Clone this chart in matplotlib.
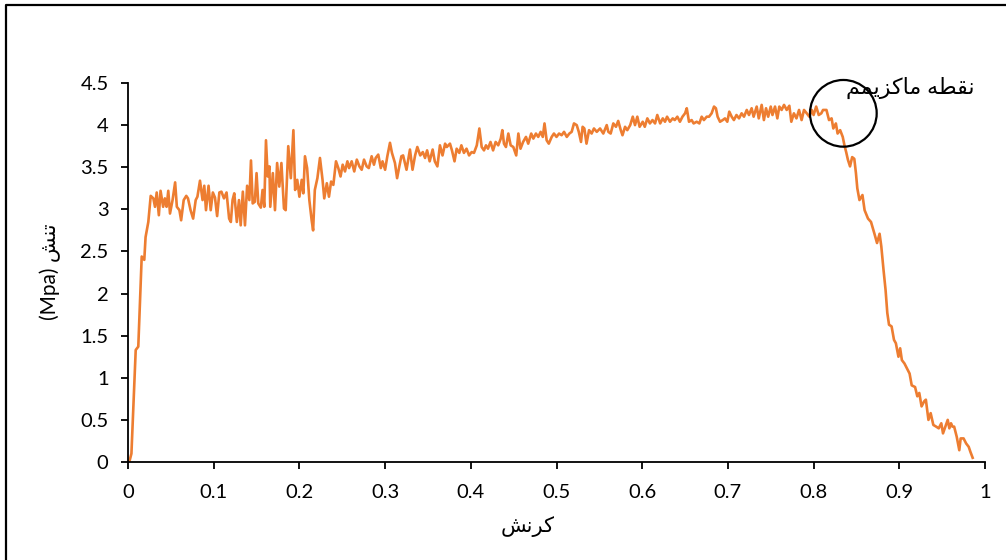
import matplotlib
matplotlib.use("Agg")
import matplotlib.pyplot as plt
from matplotlib.patches import Ellipse
from matplotlib.lines import Line2D

# ---------------- data ----------------
strain = [
    0.002, 0.004, 0.009, 0.012, 0.016, 0.019, 0.0205, 0.0237, 0.0265,
    0.0296, 0.0315, 0.0335, 0.036, 0.038, 0.041, 0.043, 0.045, 0.047, 0.049,
    0.052, 0.055, 0.057, 0.060, 0.062, 0.065, 0.068, 0.070, 0.073, 0.076,
    0.079, 0.081, 0.084, 0.087, 0.089, 0.091, 0.094, 0.0965, 0.099, 0.1015,
    0.104, 0.1066, 0.109, 0.112, 0.115, 0.118, 0.120, 0.122, 0.124, 0.127,
    0.1295, 0.1315, 0.134, 0.1365, 0.139, 0.1416, 0.1435, 0.1455, 0.148, 0.150,
    0.152, 0.155, 0.157, 0.159, 0.161, 0.163, 0.165,
    0.166, 0.169, 0.1715, 0.174, 0.1765, 0.179, 0.182, 0.184, 0.187, 0.190,
    0.193, 0.195, 0.1975, 0.200, 0.2027, 0.2046, 0.2065, 0.209, 0.2116, 0.2143,
    0.216, 0.218, 0.221, 0.224, 0.227, 0.229, 0.232, 0.2345, 0.237, 0.2396,
    0.2427, 0.2454, 0.248, 0.2505, 0.2532, 0.256, 0.258, 0.261, 0.264, 0.267,
    0.270, 0.2727, 0.2754, 0.2785, 0.281, 0.2843, 0.287, 0.289, 0.292, 0.295,
    0.297, 0.300, 0.3026, 0.3057, 0.308, 0.3115, 0.314, 0.3166, 0.319,
    0.321, 0.325, 0.329, 0.332, 0.335, 0.3376, 0.341, 0.344, 0.3466, 0.349,
    0.352, 0.3555, 0.358, 0.361, 0.364, 0.367, 0.370, 0.372, 0.3757, 0.378,
    0.381, 0.3835, 0.3866, 0.389, 0.392, 0.395, 0.398, 0.401, 0.4037, 0.407,
    0.410, 0.4127, 0.4154, 0.4177, 0.420, 0.423, 0.426, 0.429, 0.432, 0.435,
    0.4368, 0.4387, 0.441, 0.4438, 0.4465, 0.4496, 0.453, 0.4555, 0.458, 0.461,
    0.4644, 0.467, 0.4705, 0.473, 0.476, 0.4787, 0.4815, 0.484, 0.486, 0.4885,
    0.491, 0.4944, 0.497, 0.500, 0.503, 0.506, 0.5088, 0.512, 0.515, 0.5177,
    0.5204, 0.5236, 0.526, 0.5286, 0.5305, 0.5325, 0.535, 0.538, 0.541, 0.5437,
    0.547,
    0.5508, 0.5546, 0.5586, 0.5605, 0.5632, 0.5663, 0.5694, 0.572, 0.575, 0.577,
    0.580, 0.5826, 0.586, 0.589, 0.5916, 0.5943, 0.597, 0.6006, 0.603, 0.606,
    0.609, 0.612, 0.615, 0.6176, 0.621, 0.624, 0.6266, 0.629, 0.6324, 0.6356,
    0.638, 0.641, 0.644, 0.647, 0.650, 0.652, 0.6546, 0.6577, 0.660, 0.6636,
    0.6667, 0.6694, 0.672, 0.6753, 0.678, 0.681, 0.6838, 0.686, 0.688, 0.6908,
    0.694, 0.6966, 0.6993, 0.7016, 0.7044, 0.707, 0.710, 0.713, 0.716, 0.7188,
    0.722, 0.7246, 0.7277, 0.730, 0.7336, 0.736, 0.7394, 0.742, 0.7445, 0.747,
    0.750, 0.752, 0.755, 0.7577, 0.760, 0.7627, 0.7655, 0.7686, 0.7717, 0.774,
    0.777, 0.780, 0.783, 0.786, 0.7888, 0.792, 0.795, 0.7978, 0.800, 0.803,
    0.806, 0.809, 0.811,
    0.815, 0.818, 0.821, 0.823, 0.826, 0.828, 0.831, 0.834, 0.836, 0.838,
    0.840, 0.8425, 0.845, 0.8475, 0.8494, 0.851, 0.8535, 0.857, 0.8595, 0.8635,
    0.867, 0.871, 0.874, 0.877, 0.879, 0.8816, 0.884, 0.886, 0.888, 0.891,
    0.8938, 0.896, 0.899, 0.901, 0.903, 0.906, 0.909, 0.912, 0.9145, 0.9184,
    0.921, 0.9233, 0.926, 0.929, 0.931, 0.934, 0.9366, 0.9397, 0.943, 0.946,
    0.949, 0.951, 0.9545, 0.9565, 0.9584, 0.9603, 0.962, 0.964, 0.966, 0.967,
    0.970, 0.9716, 0.975, 0.978, 0.981, 0.983, 0.9856,
]

stress = [
    0.02, 0.10, 1.33, 1.37, 2.44, 2.40, 2.67, 2.85, 3.16,
    3.13, 3.03, 3.20, 2.93, 3.22, 3.03, 3.13, 3.03, 3.22, 2.95,
    3.11, 3.32, 3.03, 2.99, 2.87, 3.11, 3.16, 3.13, 2.99, 2.89,
    3.11, 3.15, 3.34, 3.11, 3.28, 2.99, 3.28, 2.99, 3.20, 3.14,
    2.92, 3.20, 3.21, 3.13, 3.20, 2.89, 2.85, 3.11, 3.19, 2.85,
    3.11, 2.81, 3.21, 2.81, 3.28, 3.11, 3.58, 3.07, 3.09, 3.43,
    3.07, 3.02, 3.23, 3.03, 3.82, 3.39, 3.51,
    3.03, 3.43, 2.99, 3.55, 3.27, 3.55, 3.01, 2.99, 3.75, 3.37,
    3.94, 3.23, 3.35, 3.15, 3.35, 3.19, 3.63, 3.49, 3.11, 2.87,
    2.75, 3.23, 3.37, 3.61, 3.35, 3.13, 3.31, 3.15, 3.33, 3.29,
    3.57, 3.49, 3.39, 3.53, 3.45, 3.57, 3.49, 3.57, 3.45, 3.59,
    3.51, 3.47, 3.59, 3.51, 3.49, 3.63, 3.53, 3.61, 3.65, 3.49,
    3.57, 3.47, 3.63, 3.79, 3.67, 3.55, 3.37, 3.51, 3.63,
    3.64, 3.47, 3.71, 3.47, 3.64, 3.74, 3.64, 3.68, 3.61, 3.70,
    3.57, 3.71, 3.57, 3.51, 3.76, 3.64, 3.78, 3.74, 3.78, 3.70,
    3.57, 3.72, 3.67, 3.76, 3.67, 3.72, 3.64, 3.68, 3.67, 3.76,
    3.96, 3.74, 3.70, 3.76, 3.72, 3.80, 3.70, 3.80, 3.76, 3.84,
    3.94, 3.78, 3.74, 3.90, 3.76, 3.74, 3.64, 3.90, 3.72, 3.80,
    3.86, 3.78, 3.90, 3.84, 3.90, 3.86, 3.92, 3.86, 4.02, 3.82,
    3.78, 3.86, 3.90, 3.86, 3.90, 3.88, 3.92, 3.86, 3.90, 3.92,
    4.02, 4.00, 3.92, 3.80, 3.98, 3.96, 3.78, 3.94, 3.90, 3.96,
    3.92,
    3.96, 3.90, 4.00, 3.92, 3.90, 4.02, 3.98, 4.05, 3.94, 3.88,
    3.98, 3.94, 4.00, 4.10, 4.00, 4.10, 3.98, 4.04, 3.98, 4.08,
    4.02, 4.06, 4.02, 4.12, 4.02, 4.08, 4.04, 4.10, 4.04, 4.08,
    4.06, 4.10, 4.04, 4.10, 4.14, 4.20, 4.04, 4.06, 4.02, 4.04,
    4.02, 4.10, 4.06, 4.10, 4.10, 4.14, 4.22, 4.20, 4.10, 4.04,
    4.06, 4.08, 4.04, 4.16, 4.10, 4.06, 4.12, 4.08, 4.14, 4.10,
    4.18, 4.12, 4.20, 4.10, 4.22, 4.08, 4.24, 4.06, 4.20, 4.10,
    4.22, 4.12, 4.22, 4.08, 4.22, 4.18, 4.24, 4.18, 4.23, 4.04,
    4.14, 4.08, 4.18, 4.06, 4.18, 4.14, 4.10, 4.18, 4.12, 4.22,
    4.12, 4.14, 4.18,
    4.18, 4.06, 4.08, 3.96, 4.02, 3.90, 3.94, 3.86, 3.76, 3.68,
    3.59, 3.51, 3.62, 3.60, 3.43, 3.25, 3.11, 3.17, 2.99, 2.89,
    2.85, 2.71, 2.60, 2.71, 2.56, 2.28, 2.04, 1.77, 1.63, 1.61,
    1.45, 1.41, 1.25, 1.35, 1.21, 1.17, 1.11, 1.05, 0.91, 0.89,
    0.78, 0.82, 0.66, 0.72, 0.74, 0.50, 0.58, 0.44, 0.42, 0.40,
    0.46, 0.34, 0.44, 0.50, 0.40, 0.46, 0.42, 0.42, 0.34, 0.30,
    0.14, 0.28, 0.28, 0.22, 0.18, 0.12, 0.05,
]

x_ticks = [0, 0.1, 0.2, 0.3, 0.4, 0.5, 0.6, 0.7, 0.8, 0.9, 1]
x_tick_labels = ["0", "0.1", "0.2", "0.3", "0.4", "0.5", "0.6", "0.7", "0.8", "0.9", "1"]
y_ticks = [0, 0.5, 1, 1.5, 2, 2.5, 3, 3.5, 4, 4.5]
y_tick_labels = ["0", "0.5", "1", "1.5", "2", "2.5", "3", "3.5", "4", "4.5"]

x_title = "کرنش"
y_title_word = "تنش"
y_title_unit = "(Mpa)"
note_text = "نقطه ماکزیمم"
max_point = (0.8347, 4.14)

# ------------- minimal Arabic/Persian shaping (matplotlib has no shaper) -------------
FORMS = {  # isolated, final, initial, medial
    'ن': (0xFEE5, 0xFEE6, 0xFEE7, 0xFEE8),
    'ق': (0xFED5, 0xFED6, 0xFED7, 0xFED8),
    'ط': (0xFEC1, 0xFEC2, 0xFEC3, 0xFEC4),
    'ه': (0xFEE9, 0xFEEA, 0xFEEB, 0xFEEC),
    'م': (0xFEE1, 0xFEE2, 0xFEE3, 0xFEE4),
    'ا': (0xFE8D, 0xFE8E, None, None),
    'ک': (0xFB8E, 0xFB8F, 0xFB90, 0xFB91),
    'ز': (0xFEAF, 0xFEB0, None, None),
    'ی': (0xFBFC, 0xFBFD, 0xFBFE, 0xFBFF),
    'ت': (0xFE95, 0xFE96, 0xFE97, 0xFE98),
    'ش': (0xFEB5, 0xFEB6, 0xFEB7, 0xFEB8),
    'ر': (0xFEAD, 0xFEAE, None, None),
}


def shape_rtl(text):
    out = []
    n = len(text)
    for i, ch in enumerate(text):
        if ch not in FORMS:
            out.append(ch)
            continue
        iso, fin, ini, med = FORMS[ch]
        prev_c = text[i - 1] if i > 0 else None
        next_c = text[i + 1] if i < n - 1 else None
        join_prev = prev_c in FORMS and FORMS[prev_c][2] is not None
        join_next = next_c in FORMS and ini is not None
        if join_prev and join_next:
            g = med
        elif join_prev:
            g = fin
        elif join_next:
            g = ini
        else:
            g = iso
        out.append(chr(g))
    return "".join(reversed(out))


# ---------------- figure ----------------
W, H = 1006, 560
fig = plt.figure(figsize=(W / 100, H / 100), dpi=100)
fig.patch.set_facecolor("white")

ax_left, ax_right, ax_top, ax_bottom = 128, 985, 83, 462
ax = fig.add_axes([ax_left / W, 1 - ax_bottom / H, (ax_right - ax_left) / W, (ax_bottom - ax_top) / H])

ax.plot(strain, stress, color="#ED7D31", lw=1.9, solid_joinstyle="round")

ax.set_xlim(0, 1)
ax.set_ylim(0, 4.5)
ax.set_xticks(x_ticks)
ax.set_xticklabels(x_tick_labels)
ax.set_yticks(y_ticks)
ax.set_yticklabels(y_tick_labels)

for s in ("top", "right"):
    ax.spines[s].set_visible(False)
for s in ("left", "bottom"):
    ax.spines[s].set_color("black")
    ax.spines[s].set_linewidth(1.3)

fam = ["Lato", "DejaVu Sans"]
ax.tick_params(axis="both", direction="out", length=5, width=1.3, colors="black",
               labelsize=14.5)
ax.tick_params(axis="x", pad=11)
ax.tick_params(axis="y", pad=9)
for lab in ax.get_xticklabels() + ax.get_yticklabels():
    lab.set_fontfamily(fam)

# circle around maximum
circ = Ellipse(max_point, width=66.7 / (ax_right - ax_left), height=66.7 / ((ax_bottom - ax_top) / 4.5),
               fill=False, ec="black", lw=1.6, clip_on=False, zorder=5)
ax.add_patch(circ)

# texts
fig.text(975 / W, 1 - 88 / H, shape_rtl(note_text), ha="right", va="center",
         fontsize=16, family=fam, color="black")
fig.text(527.5 / W, 1 - 527 / H, shape_rtl(x_title), ha="center", va="center",
         fontsize=15, family=fam, color="black")
fig.text(50 / W, 1 - 272 / H, y_title_unit + " " + shape_rtl(y_title_word), ha="center", va="center",
         rotation=90, fontsize=15, family=fam, color="black")

# outer frame (left and top edges visible)
fig.add_artist(Line2D([6 / W, 6 / W, 1.0], [0.0, 1 - 5 / H, 1 - 5 / H],
                      transform=fig.transFigure, color="black", lw=1.6))

fig.savefig("out.png", dpi=100)
